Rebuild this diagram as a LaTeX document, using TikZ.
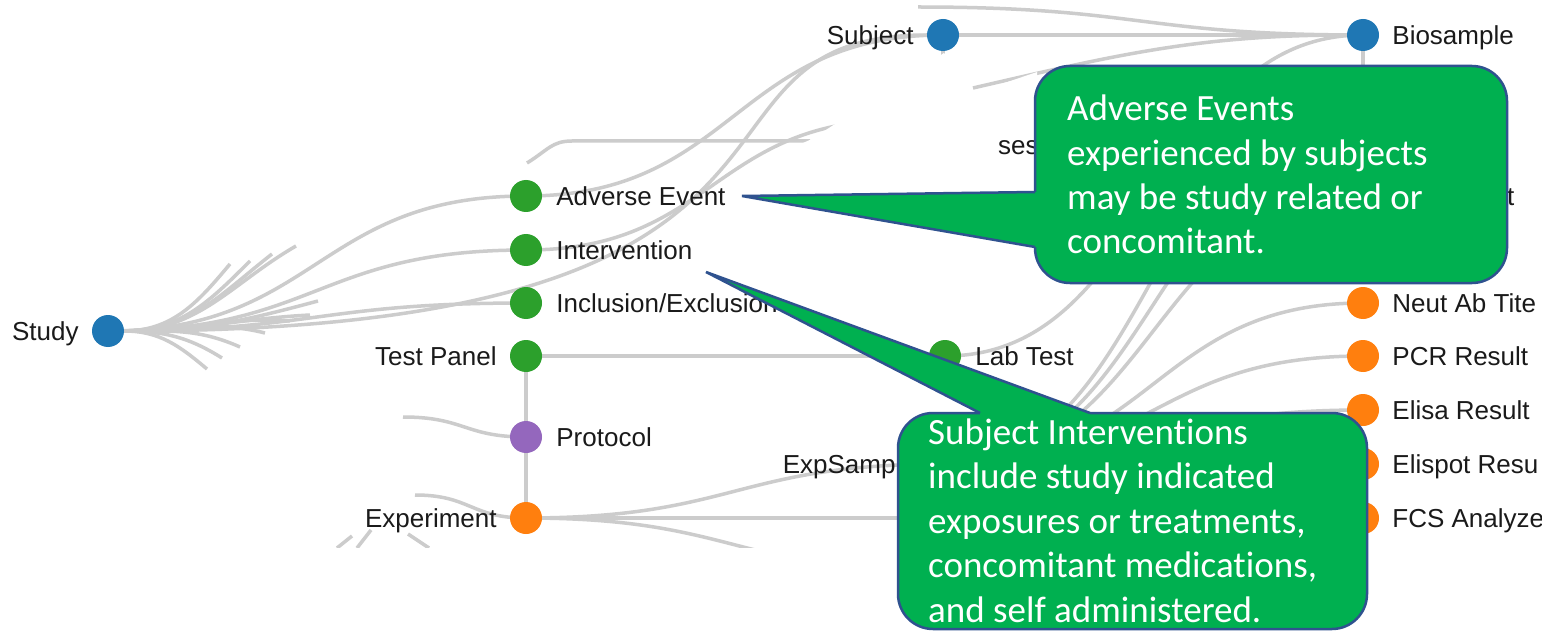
\documentclass[tikz,border=0pt]{standalone}
\usepackage{fontspec}
\setmainfont{Liberation Sans}
\newfontfamily\notefont[Ligatures=NoCommon]{Carlito}
\usepackage{tikz}
\usetikzlibrary{calc,positioning}
\pgfdeclarelayer{bg}
\pgfdeclarelayer{wipe}
\pgfdeclarelayer{fg}
\pgfsetlayers{bg,wipe,main,fg}

\definecolor{dotblue}{HTML}{1F77B4}
\definecolor{dotgreen}{HTML}{2CA02C}
\definecolor{dotpurple}{HTML}{9467BD}
\definecolor{dotorange}{HTML}{FF7F0E}
\definecolor{linkgray}{HTML}{CCCCCC}
\definecolor{labelink}{HTML}{1A1A1A}
\definecolor{notegreen}{HTML}{00B050}
\definecolor{noteedge}{HTML}{2F528F}

\tikzset{
  nodedot/.style={circle, minimum size=32pt, inner sep=0pt},
  lbl/.style={font=\fontsize{26}{30}\selectfont, text=labelink, inner sep=0pt,
    text height=23.4pt, text depth=5.2pt},
  link/.style={draw=linkgray, line width=3.5pt},
  notebox/.style={fill=notegreen, draw=noteedge, line width=2.5pt, rounded corners=35pt},
  pointeredge/.style={draw=noteedge, line width=2.5pt},
  notetext/.style={font=\fontsize{37}{44.5}\notefont, text=white, align=left,
    inner sep=0pt, anchor=base west},
  blank/.style={fill=white, draw=none}
}
% tree link: leaves and enters horizontally
\newcommand{\dlink}[2]{\draw[link] let \p1=(#1), \p2=(#2) in
  (\p1) .. controls ({(\x1+\x2)/2},\y1) and ({(\x1+\x2)/2},\y2) .. (\p2);}

\begin{document}
\begin{tikzpicture}[x=1pt, y=-1pt]
    \useasboundingbox (0,0) rectangle (1542,631);

    \node [nodedot, fill=dotblue] (study) at (108,331) {};
    \node [nodedot, fill=dotblue] (subject) at (943,35) {};
    \node [nodedot, fill=dotblue] (biosample) at (1363,35) {};
    \node [nodedot, fill=dotgreen] (adverse) at (526,196) {};
    \node [nodedot, fill=dotgreen] (interv) at (526,250) {};
    \node [nodedot, fill=dotgreen] (inclexcl) at (526,303) {};
    \node [nodedot, fill=dotgreen] (testpanel) at (526,356) {};
    \node [nodedot, fill=dotpurple] (protocol) at (526,437) {};
    \node [nodedot, fill=dotorange] (experiment) at (526,518) {};
    \node [nodedot, fill=dotgreen] (labtest) at (945,356) {};
    \node [nodedot, fill=dotorange] (neut) at (1363,303) {};
    \node [nodedot, fill=dotorange] (pcr) at (1363,356) {};
    \node [nodedot, fill=dotorange] (elisa) at (1363,410) {};
    \node [nodedot, fill=dotorange] (elispot) at (1363,464) {};
    \node [nodedot, fill=dotorange] (fcs) at (1363,518) {};
    \coordinate (expsample) at (945,464);

    \node [lbl, left=13pt of study] (studytxt) {Study};
    \node [lbl, left=13pt of subject] (subjecttxt) {Subject};
    \node [lbl, right=13pt of biosample] (biosampletxt) {Biosample};
    \node [lbl, right=14pt of adverse] (adversetxt) {Adverse Event};
    \node [lbl, right=14pt of interv] (intervtxt) {Intervention};
    \node [lbl, right=14pt of inclexcl] (inclexcltxt) {Inclusion/Exclusion};
    \node [lbl, left=13pt of testpanel] (testpaneltxt) {Test Panel};
    \node [lbl, right=14pt of protocol] (protocoltxt) {Protocol};
    \node [lbl, left=13pt of experiment] (experimenttxt) {Experiment};
    \node [lbl, right=14pt of labtest] (labtesttxt) {Lab Test};
    \node [lbl, left=29pt] (expsampletxt) at (expsample) {ExpSample};
    \node [lbl, right=13pt of neut] (neuttxt) {Neut Ab Tite};
    \node [lbl, right=13pt of pcr] (pcrtxt) {PCR Result};
    \node [lbl, right=13pt of elisa] (elisatxt) {Elisa Result};
    \node [lbl, right=13pt of elispot] (elispottxt) {Elispot Resu};
    \node [lbl, right=13pt of fcs] (fcstxt) {FCS Analyze};
    \node [lbl, anchor=west] (sestxt) at (998,145) {ses};
    \node [lbl, anchor=west] (ttxt) at (1507,196) {t};

    % free ends of cut links
    \coordinate (fan1) at (230,264);
    \coordinate (fan2) at (250,261);
    \coordinate (fan3) at (272,254);
    \coordinate (fan4) at (296,246);
    \coordinate (fan5) at (318,301);
    \coordinate (fan6) at (310,315);
    \coordinate (fan7) at (290,321);
    \coordinate (fan8) at (265,333);
    \coordinate (fan9) at (240,347);
    \coordinate (fan10) at (222,358);
    \coordinate (fan11) at (207,369);
    \coordinate (cutF) at (900,120);
    \coordinate (cutD) at (527,163);
    \coordinate (cutE) at (810,141);
    \coordinate (topfr) at (918,7);
    \coordinate (lowfr) at (973,88);
    \coordinate (subtail) at (943,120);
    \coordinate (hidA) at (1363,89);
    \coordinate (hidB) at (1363,143);
    \coordinate (hidC) at (1363,196);
    \coordinate (protfr) at (403,417);
    \coordinate (expfr) at (415,495);
    \coordinate (expmid) at (945,518);
    \coordinate (explow) at (945,572);
    \coordinate (exa1) at (337,548);
    \coordinate (exa2) at (352,536);
    \coordinate (exb1) at (357,548);
    \coordinate (exb2) at (371,530);
    \coordinate (exc1) at (408,534);
    \coordinate (exc2) at (429,548);

    \begin{pgfonlayer}{bg}
      \fill [white] (0,0) rectangle (1542,631);
      \foreach \c/\ang in {fan1/230, fan2/225, fan3/218, fan4/210, fan5/195, fan6/183,
                          fan7/176, fan8/166, fan9/156, fan10/148, fan11/140}
        \draw [link] (study) to[out=0, in=\ang] (\c);
      \dlink{study}{adverse}
      \dlink{study}{interv}
      \dlink{study}{inclexcl}
      \draw [link] (study) .. controls (890,331) and (650,35) .. (subject);
      \draw [link] (subject) -- (biosample);
      \dlink{adverse}{subject}
      \dlink{interv}{cutF}
      \draw [link] (cutD) .. controls (548,150) and (552,141) .. (572,141) -- (cutE);
      \dlink{topfr}{biosample}
      \draw [link] (lowfr) to[out=13, in=180] (biosample);
      \draw [link] (biosample) -- (hidA);
      \draw [link] (subject) -- (subtail);
      \draw [link] (testpanel) -- (labtest);
      \dlink{labtest}{biosample}
      \foreach \tgt in {hidA,hidB,hidC,neut,pcr,elisa,elispot,fcs}
        {\dlink{expsample}{\tgt}}
      \draw [link] (testpanel) -- (protocol) -- (experiment);
      \dlink{protfr}{protocol}
      \dlink{expfr}{experiment}
      \dlink{experiment}{expsample}
      \draw [link] (experiment) -- (expmid);
      \dlink{experiment}{explow}
      \draw [link] (exa1) -- (exa2);
      \draw [link] (exb1) -- (exb2);
      \draw [link] (exc1) -- (exc2);
    \end{pgfonlayer}

    \begin{pgfonlayer}{wipe}
      \fill [blank] (786,168) -- (787,150) -- (812,139) -- (944,53) -- (975,93)
                    -- (1037,72) -- (1037,190) -- (786,190) -- cycle;
      \fill [blank] (0,548) rectangle (897,631);
    \end{pgfonlayer}

    \begin{pgfonlayer}{fg}
      % adverse event note
      \draw [notebox] (1035,66) rectangle (1507,283);
      \fill [notegreen] (1035,192) -- (742,196) -- (1035,247) -- (1038,247) -- (1038,192) -- cycle;
      \draw [pointeredge] (1035,192) -- (742,196) -- (1035,247);
      \node [notetext] (adversenote) at (1067,254)
        {Adverse Events\\experienced by subjects\\may be study related or\\concomitant.};
      % intervention note
      \draw [notebox] (898,413) rectangle (1367,629);
      \fill [notegreen] (980,413) -- (706,272) -- (1090,413) -- (1090,416) -- (980,416) -- cycle;
      \draw [pointeredge] (980,413) -- (706,272) -- (1090,413);
      \node [notetext] (intervnote) at (928,622)
        {Subject Interventions\\include study indicated\\exposures or treatments,\\concomitant medications,\\and self administered.};
    \end{pgfonlayer}
\end{tikzpicture}
\end{document}
